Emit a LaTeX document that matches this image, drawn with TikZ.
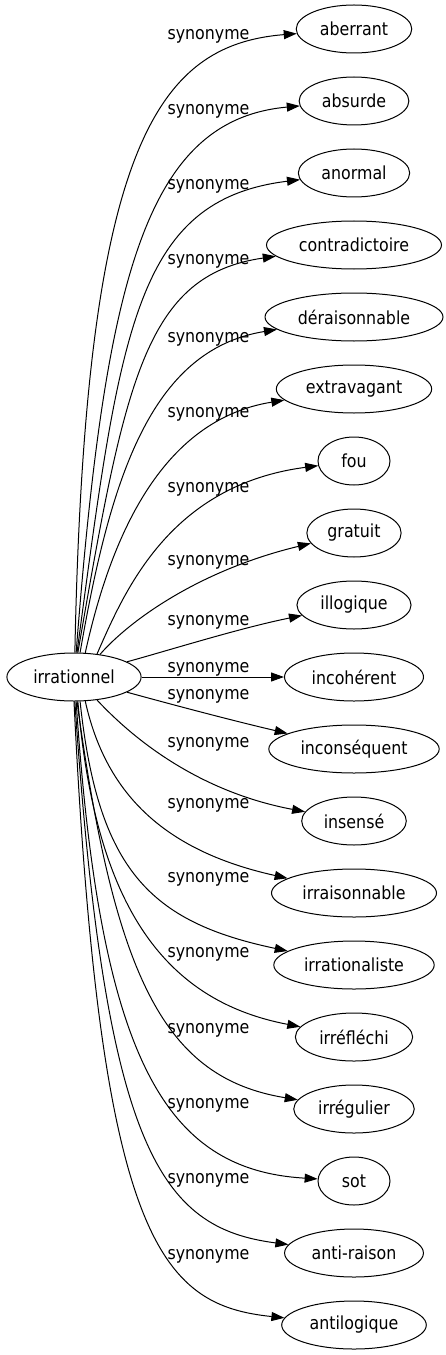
\documentclass[tikz,border=0pt]{standalone}
\usepackage{fontspec}
\setmainfont{DejaVu Sans}[FakeStretch=0.88]
\usetikzlibrary{arrows.meta,shapes.geometric}
\begin{document}
\begin{tikzpicture}[x=1bp,y=-1bp,
  every node/.style={font=\fontsize{18bp}{20bp}\selectfont},
  term/.style={ellipse,draw,line width=1bp,inner xsep=6.75bp,inner ysep=0pt,
    minimum width=72bp,minimum height=48bp},
  lab/.style={anchor=base,inner sep=0pt},
  syn/.style={draw,line width=1bp,-{Triangle[length=13bp,width=9bp]}}]
\useasboundingbox (0,0) rectangle (446,1355);
\node[term] (src) at (74,677) {irrationnel};
\node[term] (t1) at (354,29) {aberrant};
\node[term] (t2) at (354,101) {absurde};
\node[term] (t3) at (354,173) {anormal};
\node[term] (t4) at (354,245) {contradictoire};
\node[term] (t5) at (354,317) {déraisonnable};
\node[term] (t6) at (354,389) {extravagant};
\node[term] (t7) at (354,461) {fou};
\node[term] (t8) at (354,533) {gratuit};
\node[term] (t9) at (354,605) {illogique};
\node[term] (t10) at (354,677) {incohérent};
\node[term] (t11) at (354,749) {inconséquent};
\node[term] (t12) at (354,821) {insensé};
\node[term] (t13) at (354,893) {irraisonnable};
\node[term] (t14) at (354,965) {irrationaliste};
\node[term] (t15) at (354,1037) {irréfléchi};
\node[term] (t16) at (354,1109) {irrégulier};
\node[term] (t17) at (354,1181) {sot};
\node[term] (t18) at (354,1253) {anti-raison};
\node[term] (t19) at (354,1325) {antilogique};

\node[lab] (l1) at (208.5,40) {synonyme};
\node[lab] (l2) at (208.5,115) {synonyme};
\node[lab] (l3) at (208.5,190) {synonyme};
\node[lab] (l4) at (208.5,265) {synonyme};
\node[lab] (l5) at (208.5,342) {synonyme};
\node[lab] (l6) at (208.5,417) {synonyme};
\node[lab] (l7) at (208.5,492) {synonyme};
\node[lab] (l8) at (208.5,565) {synonyme};
\node[lab] (l9) at (208.5,625) {synonyme};
\node[lab] (l10) at (208.5,672) {synonyme};
\node[lab] (l11) at (208.5,699) {synonyme};
\node[lab] (l12) at (208.5,747) {synonyme};
\node[lab] (l13) at (208.5,808) {synonyme};
\node[lab] (l14) at (208.5,882) {synonyme};
\node[lab] (l15) at (208.5,957) {synonyme};
\node[lab] (l16) at (208.5,1033) {synonyme};
\node[lab] (l17) at (208.5,1108) {synonyme};
\node[lab] (l18) at (208.5,1183) {synonyme};
\node[lab] (l19) at (208.5,1259) {synonyme};

\path[syn] (src.88) .. controls (85,150) and (155,45) .. (t1);
\path[syn] (src.85) .. controls (105,280) and (145,120) .. (t2);
\path[syn] (src.83) .. controls (120,330) and (135,200) .. (t3);
\path[syn] (src.81) .. controls (125,380) and (145,275) .. (t4);
\path[syn] (src.76) .. controls (110,480) and (150,350) .. (t5);
\path[syn] (src.65) .. controls (110,540) and (160,420) .. (t6);
\path[syn] (src.45) .. controls (125,590) and (170,485) .. (t7);
\path[syn] (src.41) .. controls (130,620) and (200,570) .. (t8);
\path[syn] (src.16) .. controls (170,650) and (240,628) .. (t9);
\path[syn] (src) -- (t10);
\path[syn] (src.-16) .. controls (170,704) and (230,720) .. (t11);
\path[syn] (src.-45) .. controls (125,730) and (190,790) .. (t12);
\path[syn] (src.-65) .. controls (105,790) and (160,850) .. (t13);
\path[syn] (src.-76) .. controls (98,870) and (150,922) .. (t14);
\path[syn] (src.-81) .. controls (95,900) and (160,1000) .. (t15);
\path[syn] (src.-83) .. controls (115,980) and (165,1078) .. (t16);
\path[syn] (src.-85) .. controls (100,1060) and (165,1170) .. (t17);
\path[syn] (src.-88) .. controls (105,1150) and (160,1228) .. (t18);
\path[syn] (src.-90) .. controls (100,1240) and (160,1305) .. (t19);
\end{tikzpicture}
\end{document}
